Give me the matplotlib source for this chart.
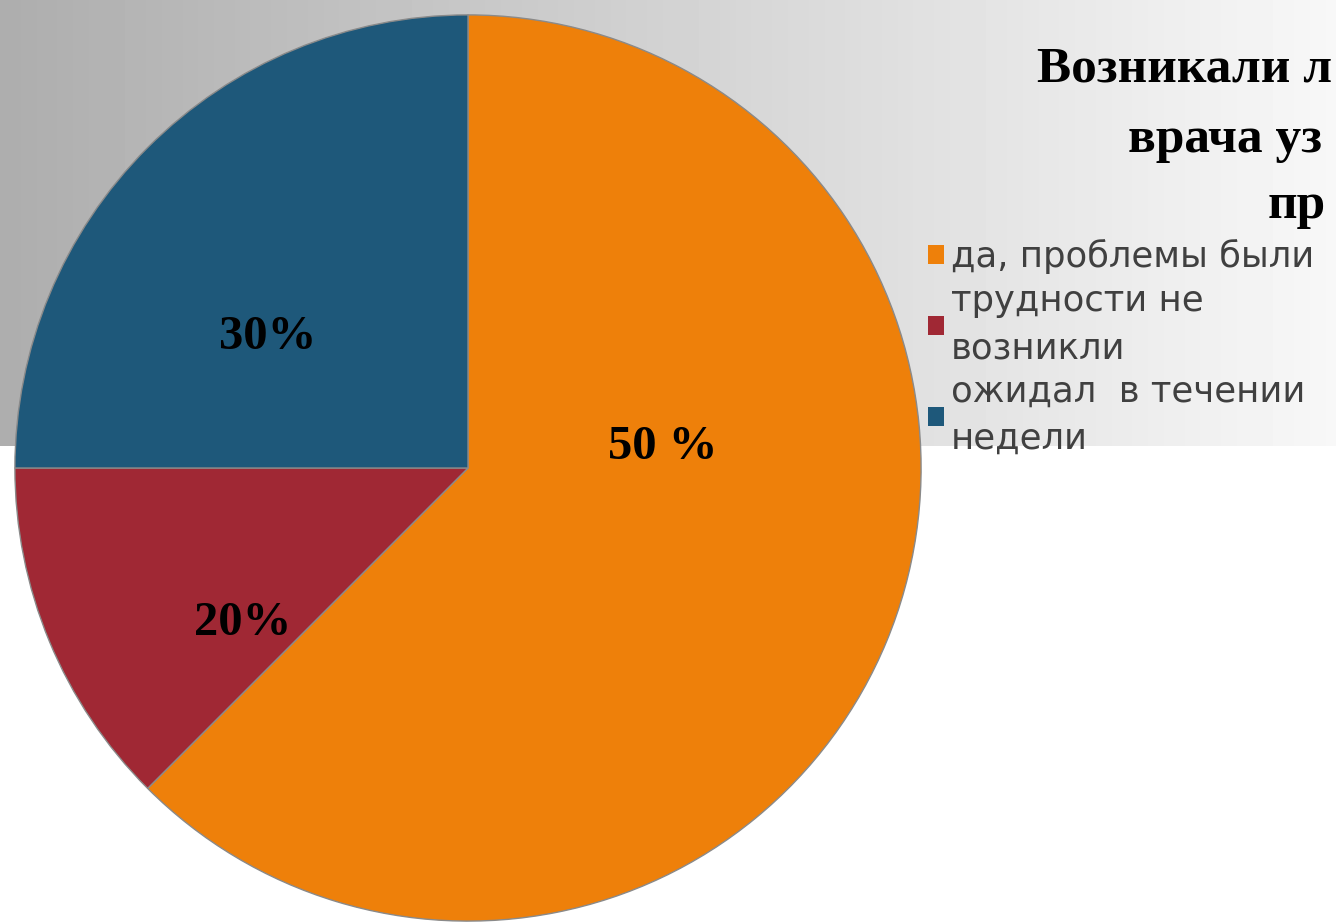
import matplotlib
matplotlib.use('Agg')
import matplotlib.pyplot as plt
from matplotlib.patches import Patch
import numpy as np

# данные
categories = ['да, проблемы были', 'трудности не\nвозникли', 'ожидал  в течении\nнедели']
sizes = [62.5, 12.5, 25]
pct_labels = ['50 %', '20%', '30%']
colors = ['#EE800A', '#A02834', '#1E587A']
title_lines = ['Возникали л', 'врача уз', 'пр']

W, H = 1336, 923
fig = plt.figure(figsize=(W / 100, H / 100), dpi=100)
fig.patch.set_facecolor('white')

# серый градиент сверху
bg = fig.add_axes([0, 1 - 446 / H, 1, 446 / H])
grad = np.linspace(0.68, 0.97, 256).reshape(1, -1)
bg.imshow(grad, cmap='gray', vmin=0, vmax=1, aspect='auto', extent=[0, 1, 0, 1])
bg.axis('off')

# круговая диаграмма
ax = fig.add_axes([14 / W, 1 / H, 908 / W, 908 / H])
wedges, _ = ax.pie(sizes, colors=colors, startangle=90, counterclock=False,
                   radius=1, wedgeprops=dict(edgecolor='#8a8a8a', linewidth=1))
ax.set_xlim(-1.002, 1.002)
ax.set_ylim(-1.002, 1.002)
ax.set_aspect('equal')
ax.axis('off')

label_pos = [(0.43, 0.046), (-0.498, -0.341), (-0.443, 0.289)]
for txt, (px, py) in zip(pct_labels, label_pos):
    ax.text(px, py, txt, ha='center', va='center', fontsize=35,
            fontweight='bold', family='Liberation Serif', color='black')

# заголовок (обрезан справа, как в оригинале)
for i, line in enumerate(title_lines):
    x0 = [1037, 1128, 1268][i]
    yb = [82, 152, 218][i]
    fig.text(x0 / W, 1 - yb / H, line, ha='left', va='baseline', fontsize=37,
             fontweight='bold', family='Liberation Serif', color='black')

# легенда
handles = [Patch(facecolor=c, edgecolor='none') for c in colors]
leg = fig.legend(handles, categories, loc='upper left',
                 bbox_to_anchor=(928 / W, 1 - 239 / H), frameon=False,
                 prop=dict(family='DejaVu Sans', size=25.5), labelcolor='#404040',
                 handlelength=0.45, handleheight=0.45, handletextpad=0.2,
                 labelspacing=0.27, borderpad=0, borderaxespad=0)
for t in leg.get_texts():
    t.set_linespacing(1.5)

fig.savefig('out.png', dpi=100)
